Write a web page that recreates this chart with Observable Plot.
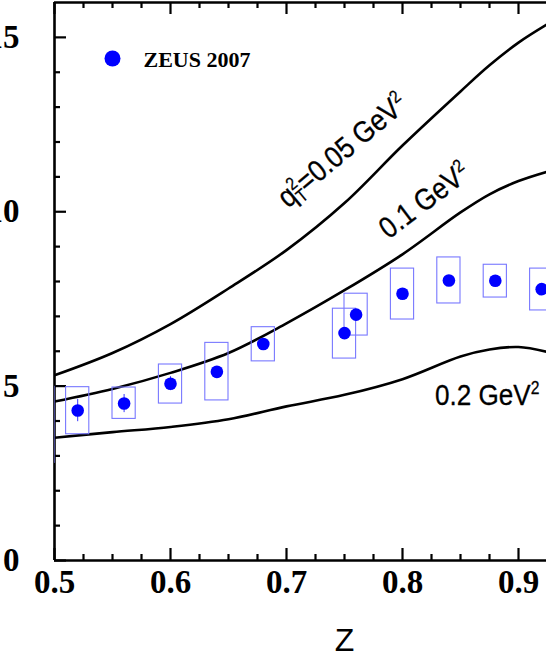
<!DOCTYPE html>
<html><head><meta charset="utf-8">
<script src="https://cdn.jsdelivr.net/npm/d3@7"></script>
<script src="https://cdn.jsdelivr.net/npm/@observablehq/plot@0.6"></script>
<style>
html,body{margin:0;padding:0;background:#fff;overflow:hidden;}
#chart svg{overflow:hidden;display:block;}
</style></head><body><div id="chart"></div>
<script>
// theory curves (q_T^2 = 0.05, 0.1, 0.2 GeV^2)
const curveZ   = [0.50, 0.55, 0.60, 0.65, 0.70, 0.75, 0.80, 0.85, 0.875, 0.90, 0.925];
const curve005 = [5.31, 5.95, 6.78, 7.80, 8.90, 10.25, 11.90, 13.45, 14.20, 14.85, 15.38];
const curve01  = [4.56, 4.92, 5.38, 5.95, 6.80, 7.75, 8.78, 9.98, 10.50, 10.88, 11.15];
const curve02  = [3.52, 3.68, 3.83, 4.05, 4.42, 4.75, 5.20, 5.85, 6.05, 6.12, 5.98];

// ZEUS 2007 data
const zeusZ     = [0.49, 0.52, 0.56, 0.60, 0.64, 0.68, 0.75, 0.76, 0.80, 0.84, 0.88, 0.92];
const zeusV     = [3.90, 4.30, 4.50, 5.07, 5.41, 6.21, 6.52, 7.05, 7.65, 8.03, 8.02, 7.78];
const zeusStat  = [0.30, 0.32, 0.26, 0.20, 0.12, 0.10, 0.10, 0.10, 0.10, 0.10, 0.10, 0.10];
const zeusSysLo = [2.80, 3.62, 4.06, 4.50, 4.59, 5.71, 5.79, 6.45, 6.91, 7.37, 7.54, 7.17];
const zeusSysHi = [4.98, 4.97, 4.96, 5.62, 6.24, 6.69, 7.22, 7.65, 8.37, 8.69, 8.48, 8.37];

// ticks
const xMajor = [0.5, 0.6, 0.7, 0.8, 0.9];
const xMinor = [0.525, 0.55, 0.575, 0.625, 0.65, 0.675, 0.725, 0.75, 0.775, 0.825, 0.85, 0.875];
const yMajor = [0, 5, 10, 15];
const yMinor = [1, 2, 3, 4, 6, 7, 8, 9, 11, 12, 13, 14];

// labels
const curveLabels = ["q^2_T=0.05 GeV^2", "0.1 GeV^2", "0.2 GeV^2"];
const labelZ = [0.696, 0.783, 0.828];
const labelV = [10.30, 9.42, 4.74];
const labelAngle = [-40, -37, 0];
const legendText = "ZEUS 2007";
const xLabel = "Z";
const xLabelZ = 0.75;

const curves = [];
[curve005, curve01, curve02].forEach((arr, k) => arr.forEach((v, i) => curves.push({k, z: curveZ[i], v})));
const zeus = zeusZ.map((z, i) => ({z, v: zeusV[i], s: zeusStat[i], lo: zeusSysLo[i], hi: zeusSysHi[i]}));
const labels = curveLabels.map((t, i) => ({t, z: labelZ[i], v: labelV[i], a: labelAngle[i]}));

const W = 546, H = 654, ML = 54, MR = 0, MT = 2, MB = 94;
const PW = W - ML - MR, PH = H - MT - MB;
const serif = "Liberation Serif, Times New Roman, serif";
const sans = "Liberation Sans, Arial, Helvetica, sans-serif";
const boxHalf = 0.01;

const chart = Plot.plot({
  width: W, height: H,
  marginLeft: ML, marginRight: MR, marginTop: MT, marginBottom: MB,
  x: {domain: [0.5, 0.5 + PW / 1160]},
  y: {domain: [0, 16]},
  marks: [
    // frame
    Plot.ruleX([0.5], {stroke: "black", strokeWidth: 2.6}),
    Plot.ruleY([0], {stroke: "black", strokeWidth: 2.6}),
    Plot.ruleY([16], {stroke: "black", strokeWidth: 2.6}),
    // inward ticks
    Plot.ruleY(yMajor, {stroke: "black", strokeWidth: 2.2, insetRight: PW - 12}),
    Plot.ruleY(yMinor, {stroke: "black", strokeWidth: 2.2, insetRight: PW - 6}),
    Plot.ruleX(xMajor, {stroke: "black", strokeWidth: 2.2, insetTop: PH - 12}),
    Plot.ruleX(xMinor, {stroke: "black", strokeWidth: 2.2, insetTop: PH - 6}),
    Plot.ruleX(xMajor, {stroke: "black", strokeWidth: 2.2, insetBottom: PH - 12}),
    Plot.ruleX(xMinor, {stroke: "black", strokeWidth: 2.2, insetBottom: PH - 6}),
    // axes labels
    Plot.axisX(xMajor, {tickSize: 0, tickPadding: 9, tickFormat: d3.format(".1f"), fontSize: 33, fontWeight: "bold", fontFamily: serif, fill: "black", label: null}),
    Plot.axisY(yMajor, {tickSize: 0, tickPadding: 35, fontSize: 33, fontWeight: "bold", fontFamily: serif, fill: "black", label: null}),
    Plot.text([xLabel], {x: () => xLabelZ, frameAnchor: "bottom", lineAnchor: "middle", dy: 80, fontSize: 32, fontFamily: sans, fill: "black"}),
    // curves
    Plot.line(curves, {x: "z", y: "v", z: "k", stroke: "black", strokeWidth: 2.6, curve: "catmull-rom", clip: true}),
    // data
    Plot.rect(zeus, {x1: d => d.z - boxHalf, x2: d => d.z + boxHalf, y1: "lo", y2: "hi", fill: "none", stroke: "#7878ff", strokeWidth: 1.1, clip: true}),
    Plot.ruleX(zeus, {x: "z", y1: d => d.v - d.s, y2: d => d.v + d.s, stroke: "#3535ff", strokeWidth: 1, clip: true}),
    Plot.dot(zeus, {x: "z", y: "v", r: 6.3, fill: "#0000ff", stroke: null, clip: true}),
    // legend
    Plot.dot([legendText], {frameAnchor: "top-left", dx: 58, dy: 56, r: 8, fill: "#0000ff", stroke: null}),
    Plot.text([legendText], {frameAnchor: "top-left", lineAnchor: "middle", dx: 89, dy: 57, textAnchor: "start", fontSize: 22, fontWeight: "bold", fontFamily: serif, fill: "black"}),
    // curve labels
    Plot.text(labels, {x: "z", y: "v", text: "t", rotate: "a", textAnchor: "start", lineAnchor: "middle", fontSize: 30, fontFamily: sans, fill: "black", stroke: "black", strokeWidth: 0.3})
  ]
});

// rich text (super/subscripts) + narrow glyphs for curve labels
const SUP = 18, RAISE = 11, DROP = 5;
function toTspans(s) {
  const parts = s.split(/(\^.|_.)/).filter(p => p !== "");
  let off = 0, lastW = 0, html = "";
  for (const p of parts) {
    if (p[0] === "^") {
      html += `<tspan dy="${-RAISE - off}" font-size="${SUP}">${p[1]}</tspan>`;
      off = -RAISE; lastW = SUP * 0.556;
    } else if (p[0] === "_") {
      html += `<tspan dx="${-lastW}" dy="${DROP - off}" font-size="${SUP}">${p[1]}</tspan>`;
      off = DROP;
    } else {
      html += off === 0 ? `<tspan>${p}</tspan>` : `<tspan dy="${-off}">${p}</tspan>`;
      off = 0;
    }
  }
  return html;
}
const xs = chart.scale("x"), ys = chart.scale("y");
Array.from(chart.querySelectorAll("text")).forEach(el => {
  const idx = curveLabels.indexOf(el.textContent);
  if (idx < 0) return;
  const d = labels[idx];
  el.innerHTML = toTspans(d.t);
  el.setAttribute("transform", `translate(${xs.apply(d.z)},${ys.apply(d.v)}) rotate(${d.a}) scale(0.87,1)`);
});

document.getElementById("chart").appendChild(chart);
</script>
</body></html>
